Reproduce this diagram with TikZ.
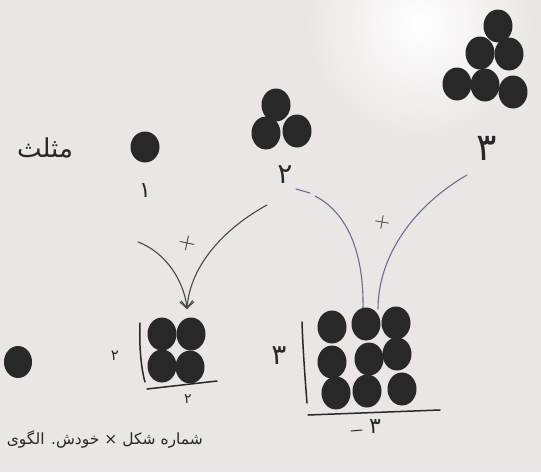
\documentclass[tikz,border=0pt]{standalone}
\usepackage{fontspec}
\usetikzlibrary{shapes.geometric,arrows.meta}
\TeXXeTstate=1
\newfontfamily\fa[Script=Arabic]{DejaVu Sans}
\definecolor{bg}{RGB}{234,230,229}
\definecolor{ink}{RGB}{40,40,40}
\definecolor{blueink}{RGB}{105,112,140}
\begin{document}
\begin{tikzpicture}[x=1pt,y=-1pt,
  dot/.style={ellipse, fill=ink, draw=none, inner sep=0pt, minimum width=29pt, minimum height=33pt},
  lbl/.style={text=ink, inner sep=0pt},
  stroke/.style={draw=ink, line width=1.5pt, line cap=round},
  curve/.style={draw=ink!85, line width=1.1pt, line cap=round},
  bcurve/.style={draw=blueink, line width=1.1pt, line cap=round}]
\useasboundingbox (0,0) rectangle (541,472);
\fill[bg] (0,0) rectangle (541,472);
\shade[inner color=white, outer color=bg] (420,25) circle[radius=115];

% title
\node[lbl, font=\fa\fontsize{26}{30}\selectfont] (title) at (45,148) {\beginR مثلث\endR};

% n = 1
\node[dot, minimum width=29pt, minimum height=31pt] (d1) at (145,147) {};
\node[lbl, font=\fa\fontsize{22}{24}\selectfont] (n1) at (145,191) {۱};

% n = 2
\node[dot] (d2a) at (276,105) {};
\node[dot] (d2b) at (266,133) {};
\node[dot] (d2c) at (297,131) {};
\node[lbl, font=\fa\fontsize{28}{30}\selectfont] (n2) at (285,175) {۲};

% n = 3
\node[dot] (d3a) at (498,26) {};
\node[dot] (d3b) at (480,53) {};
\node[dot] (d3c) at (509,54) {};
\node[dot] (d3d) at (457,84) {};
\node[dot] (d3e) at (485,85) {};
\node[dot] (d3f) at (513,92) {};
\node[lbl, font=\fa\fontsize{38}{40}\selectfont] (n3) at (487,148) {۳};

% arrows into the 2x2 square
\coordinate (s1) at (138,242);
\coordinate (s2) at (267,205);
\coordinate (tip) at (187,309);
\draw[curve, -{Straight Barb[length=7pt,width=13pt]}] (s1) .. controls (165,252) and (184,280) .. (tip);
\draw[curve, -{Straight Barb[length=7pt,width=13pt]}] (s2) .. controls (225,228) and (190,265) .. (tip);
\node[lbl, font=\fontsize{24}{24}\selectfont, rotate=-12] (p1) at (187,243) {+};

% curves into the 3x3 square
\coordinate (b1a) at (296,189);
\coordinate (b1b) at (310,193);
\coordinate (b1s) at (315,196);
\coordinate (b1t) at (363,309);
\coordinate (b2s) at (467,175);
\coordinate (b2t) at (378,309);
\draw[bcurve] (b1a) -- (b1b);
\draw[bcurve] (b1s) .. controls (352,215) and (364,262) .. (b1t);
\draw[bcurve] (b2s) .. controls (415,205) and (378,255) .. (b2t);
\node[lbl, font=\fontsize{22}{22}\selectfont, rotate=-10] (p2) at (382,222) {+};

% 2x2 square
\node[dot] (q11) at (162,334) {};
\node[dot] (q12) at (191,334) {};
\node[dot] (q21) at (162,366) {};
\node[dot] (q22) at (190,367) {};
\coordinate (v1a) at (140,323);
\coordinate (v1b) at (145,382);
\coordinate (h1a) at (147,389);
\coordinate (h1b) at (217,381);
\draw[stroke] (v1a) .. controls (139,345) and (141,368) .. (v1b);
\draw[stroke] (h1a) -- (h1b);
\node[lbl, font=\fa\fontsize{15}{16}\selectfont] (l2a) at (115,356) {۲};
\node[lbl, font=\fa\fontsize{14}{16}\selectfont] (l2b) at (188,399) {۲};

% 3x3 square
\node[dot] (r11) at (332,327) {};
\node[dot] (r12) at (366,324) {};
\node[dot] (r13) at (396,323) {};
\node[dot] (r21) at (332,362) {};
\node[dot] (r22) at (369,359) {};
\node[dot] (r23) at (397,354) {};
\node[dot] (r31) at (336,393) {};
\node[dot] (r32) at (367,391) {};
\node[dot] (r33) at (402,389) {};
\coordinate (v2a) at (302,322);
\coordinate (v2b) at (307,403);
\coordinate (h2a) at (308,415);
\coordinate (h2b) at (440,410);
\draw[stroke] (v2a) .. controls (303,350) and (305,378) .. (v2b);
\draw[stroke] (h2a) -- (h2b);
\node[lbl, font=\fa\fontsize{28}{30}\selectfont] (l3a) at (279,356) {۳};
\node[lbl, font=\fa\fontsize{22}{24}\selectfont] (l3b) at (375,427) {۳};
\coordinate (da) at (351,431);
\coordinate (db) at (362,430);
\draw[stroke, line width=1pt] (da) -- (db);

% lone dot
\node[dot, minimum width=28pt, minimum height=32pt] (d0) at (18,362) {};

% bottom text
\node[lbl, anchor=east, font=\fa\fontsize{15.5}{18}\selectfont] (rule) at (203,439) {\beginR شماره شکل × خودش. الگوی\endR};
\end{tikzpicture}
\end{document}
